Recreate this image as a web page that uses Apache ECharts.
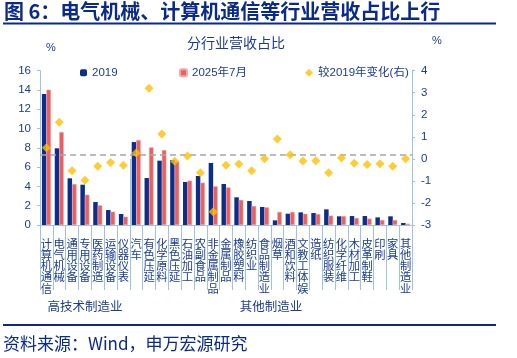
<!DOCTYPE html>
<html><head><meta charset="utf-8">
<script src="https://cdn.jsdelivr.net/npm/echarts@6/dist/echarts.min.js"></script>
<style>html,body{margin:0;padding:0;background:#fff}#c{width:517px;height:358px}</style>
</head><body><div id="c"></div>
<script>
var categories = ['计算机通信','电气机械','通用设备','专用设备','医药制造','运输设备','仪器仪表','汽车','有色压延','化学原料','黑色压延','石油加工','农副食品','非金属制品','金属制品','橡胶塑料','纺织业','食品制造业','烟草','酒和饮料','文教工体娱','造纸','纺织服装','化学纤维','木材加工','皮革制鞋','印刷','家具','其他制造业'];
var v2019 = [13.58,7.95,4.84,4.18,2.38,1.55,1.14,8.6,4.87,6.67,6.74,4.46,5.08,6.43,4.25,2.87,2.49,1.87,0.48,1.17,1.31,1.24,1.62,0.9,0.93,0.93,0.79,0.9,0.21];
var v2025 = [14.03,9.64,4.25,3.14,2.04,1.38,0.86,8.81,8.05,7.77,6.6,4.6,4.39,4.01,3.9,2.6,1.97,1.83,1.35,1.35,1.17,1.14,0.97,0.93,0.73,0.66,0.52,0.52,0.14];
var change = [0.51,1.66,-0.54,-0.97,-0.34,-0.17,-0.29,0.27,3.2,1.13,-0.11,0.13,-0.63,-2.4,-0.29,-0.23,-0.54,0.01,0.9,0.19,-0.1,-0.08,-0.63,0.04,-0.2,-0.26,-0.22,-0.34,0.0];
var groupNames = ['高技术制造业','其他制造业'];
var groupSizes = [7,22];
var refLine = 0.18;
var seriesNames = ['2019','2025年7月','较2019年变化(右)'];

var groupBounds = [0], groupCenters = [], acc = 0;
groupSizes.forEach(function(n){ groupCenters.push(acc + n/2); acc += n; groupBounds.push(acc); });

var TXT = '#1B3C8F', AX = '#9DC3E6', FONT = '"Liberation Sans","Noto Sans CJK SC",sans-serif';
var chart = echarts.init(document.getElementById('c'));
chart.setOption({
  animation:false,
  textStyle:{fontFamily:FONT},
  graphic:[
    {type:'text', left:4, top:1, style:{text:'图 6：电气机械、计算机通信等行业营收占比上行', fill:'#0A2A8A', font:'bold 20px "Noto Sans CJK SC"'}},
    {type:'rect', shape:{x:3,y:22.5,width:493,height:2}, style:{fill:'#0A2A8A'}},
    {type:'text', left:187, top:36, style:{text:'分行业营收占比', fill:TXT, font:'14px "Noto Sans CJK SC"'}},
    {type:'rect', shape:{x:3,y:324,width:493,height:2}, style:{fill:'#0A2A8A'}},
    {type:'text', left:3, top:335, style:{text:'资料来源：Wind，申万宏源研究', fill:'#0A2A8A', font:'17px "Noto Sans CJK SC"'}}
  ],
  legend:[
    {data:[seriesNames[0]], left:80, top:67, padding:0, itemWidth:7, itemHeight:7, itemGap:4, textStyle:{color:TXT, fontSize:11.5, fontFamily:FONT}},
    {data:[seriesNames[1]], left:179, top:67, padding:0, itemWidth:7, itemHeight:7, itemGap:4, textStyle:{color:TXT, fontSize:11.5, fontFamily:FONT}},
    {data:[{name:seriesNames[2], icon:'diamond'}], left:305, top:67, padding:0, itemWidth:8, itemHeight:8, itemGap:4, textStyle:{color:TXT, fontSize:11.5, fontFamily:FONT}}
  ],
  grid:{left:40, right:105, top:70.7, bottom:133, containLabel:false},
  xAxis:[
    {type:'category', data:categories, boundaryGap:true, position:'bottom',
     axisLine:{show:true, lineStyle:{color:AX, width:1}},
     axisTick:{show:true, interval:0, length:65, lineStyle:{color:AX, width:1}},
     axisLabel:{interval:0, margin:13, color:TXT, fontSize:11.3, lineHeight:11.2, verticalAlign:'top', fontFamily:'"Noto Sans CJK SC"',
       formatter:function(v){ return v.split('').join('\n'); }}},
    {type:'value', min:0, max:categories.length, position:'bottom', gridIndex:0,
     axisLine:{show:false}, splitLine:{show:false},
     axisTick:{show:true, customValues:groupBounds, length:92, lineStyle:{color:AX}},
     axisLabel:{show:true, customValues:groupCenters, margin:75, color:TXT, fontSize:12.5, fontFamily:'"Noto Sans CJK SC"',
       formatter:function(v){ var i = groupCenters.indexOf(v); return i>=0 ? groupNames[i] : ''; }}}
  ],
  yAxis:[
    {type:'value', min:0, max:16, interval:2, position:'left',
     name:'%', nameLocation:'end', nameGap:17, nameTextStyle:{color:TXT, fontSize:11, align:'left', padding:[0,0,0,6]},
     axisLine:{show:true, lineStyle:{color:AX}}, axisTick:{show:true, length:3, lineStyle:{color:AX}},
     axisLabel:{color:TXT, fontSize:11.5, margin:9}, splitLine:{show:false}},
    {type:'value', min:-3, max:4, interval:1, position:'right',
     name:'%', nameLocation:'end', nameGap:24, nameTextStyle:{color:TXT, fontSize:11, align:'left', padding:[0,0,0,20]},
     axisLine:{show:true, lineStyle:{color:AX}}, axisTick:{show:true, length:3, lineStyle:{color:AX}},
     axisLabel:{color:TXT, fontSize:11.5, margin:9}, splitLine:{show:false}}
  ],
  series:[
    {name:seriesNames[0], type:'bar', data:v2019, barWidth:4.5, barGap:'0%', itemStyle:{color:'#0B2E8C'}},
    {name:seriesNames[1], type:'bar', data:v2025, barWidth:4.5, barGap:'0%', itemStyle:{color:'#E8605F', borderColor:'#F3A7A6', borderWidth:0.5}},
    {name:seriesNames[2], type:'scatter', yAxisIndex:1, data:change, symbol:'diamond', symbolSize:9, itemStyle:{color:'#FFC000'}, z:5,
     markLine:{silent:true, symbol:'none', label:{show:false}, lineStyle:{color:'#A6A6A6', type:[6,4], width:1.5},
       data:[{yAxis:refLine}]}}
  ]
});
</script></body></html>
